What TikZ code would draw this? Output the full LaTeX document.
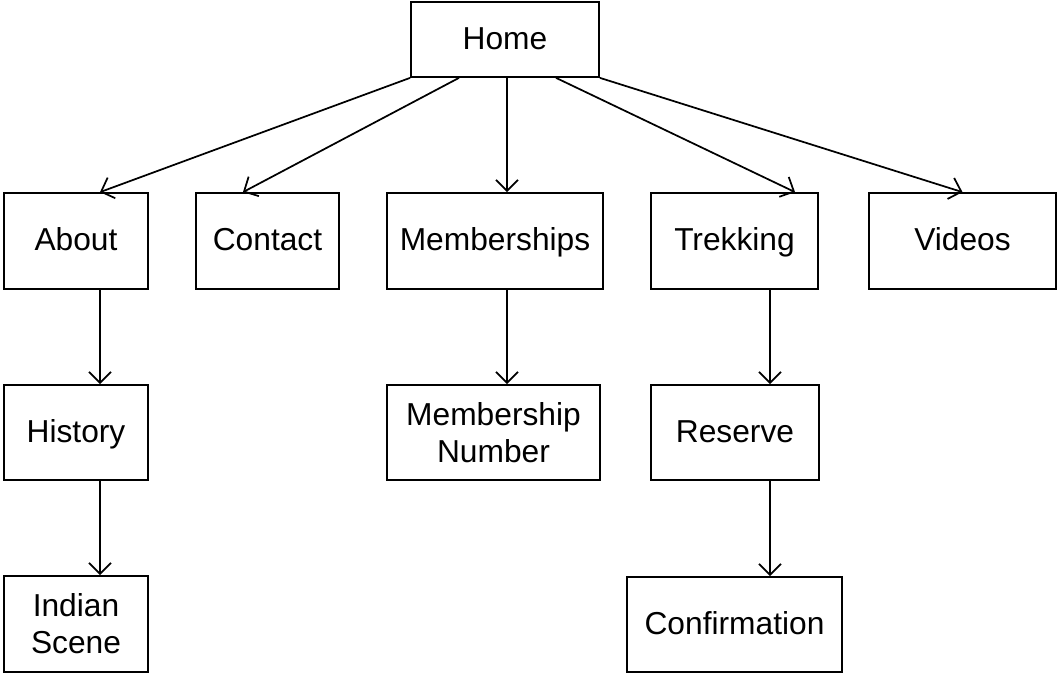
\documentclass[tikz,border=0pt]{standalone}
\usepackage{fontspec}
\setmainfont{Liberation Sans}
\usetikzlibrary{arrows.meta}

\begin{document}
\begin{tikzpicture}[x=0.75pt,y=0.75pt,yscale=-1,xscale=1,
	page/.style={draw, line width=1.3pt, rectangle, inner sep=0pt, align=center,
		font=\fontsize{23.8pt}{27.75pt}\selectfont},
	oneline/.style={page, text height=17pt, text depth=2pt},
	link/.style={-{Straight Barb[length=8.25pt,width=16.5pt]}, line width=1.3pt}]
	\useasboundingbox (0,0) rectangle (1057,673);
	% top level
	\node [oneline, minimum width=141pt, minimum height=56.25pt] (home) at (505,39.5) {Home};
	% second level
	\node [oneline, minimum width=108pt, minimum height=72pt] (about) at (76,241) {About};
	\node [oneline, minimum width=107.25pt, minimum height=72pt] (contact) at (267.5,241) {Contact};
	\node [oneline, minimum width=162pt, minimum height=72pt] (memberships) at (495,241) {Memberships};
	\node [oneline, minimum width=125.25pt, minimum height=72pt] (trekking) at (734.5,241) {Trekking};
	\node [oneline, minimum width=140.25pt, minimum height=72pt] (videos) at (962.5,241) {Videos};
	% third level
	\node [oneline, minimum width=108pt, minimum height=71.25pt] (history) at (76,432.5) {History};
	\node [page, minimum width=159.75pt, minimum height=71.25pt] (memnumber) at (493.5,432.5) {Membership\\Number};
	\node [oneline, minimum width=126pt, minimum height=71.25pt] (reserve) at (735,432.5) {Reserve};
	% fourth level
	\node [page, minimum width=108pt, minimum height=72pt] (indian) at (76,624) {Indian\\Scene};
	\node [oneline, minimum width=161.25pt, minimum height=71.25pt] (confirm) at (734.5,624.5) {Confirmation};

	\draw [link] (home.south west) -- ([xshift=18pt]about.north);
	\draw [link] ([xshift=-34.5pt]home.south) -- ([xshift=-18.4pt]contact.north);
	\draw [link] ([xshift=1.5pt]home.south) -- ([xshift=9pt]memberships.north);
	\draw [link] ([xshift=38.25pt]home.south) -- ([xshift=45.4pt]trekking.north);
	\draw [link] (home.south east) -- (videos.north);
	\draw [link] ([xshift=18pt]about.south) -- ([xshift=18pt]history.north);
	\draw [link] ([xshift=18pt]history.south) -- ([xshift=18pt]indian.north);
	\draw [link] ([xshift=9pt]memberships.south) -- ([xshift=10.1pt]memnumber.north);
	\draw [link] ([xshift=26.6pt]trekking.south) -- ([xshift=26.25pt]reserve.north);
	\draw [link] ([xshift=26.25pt]reserve.south) -- ([xshift=26.6pt]confirm.north);
\end{tikzpicture}
\end{document}
